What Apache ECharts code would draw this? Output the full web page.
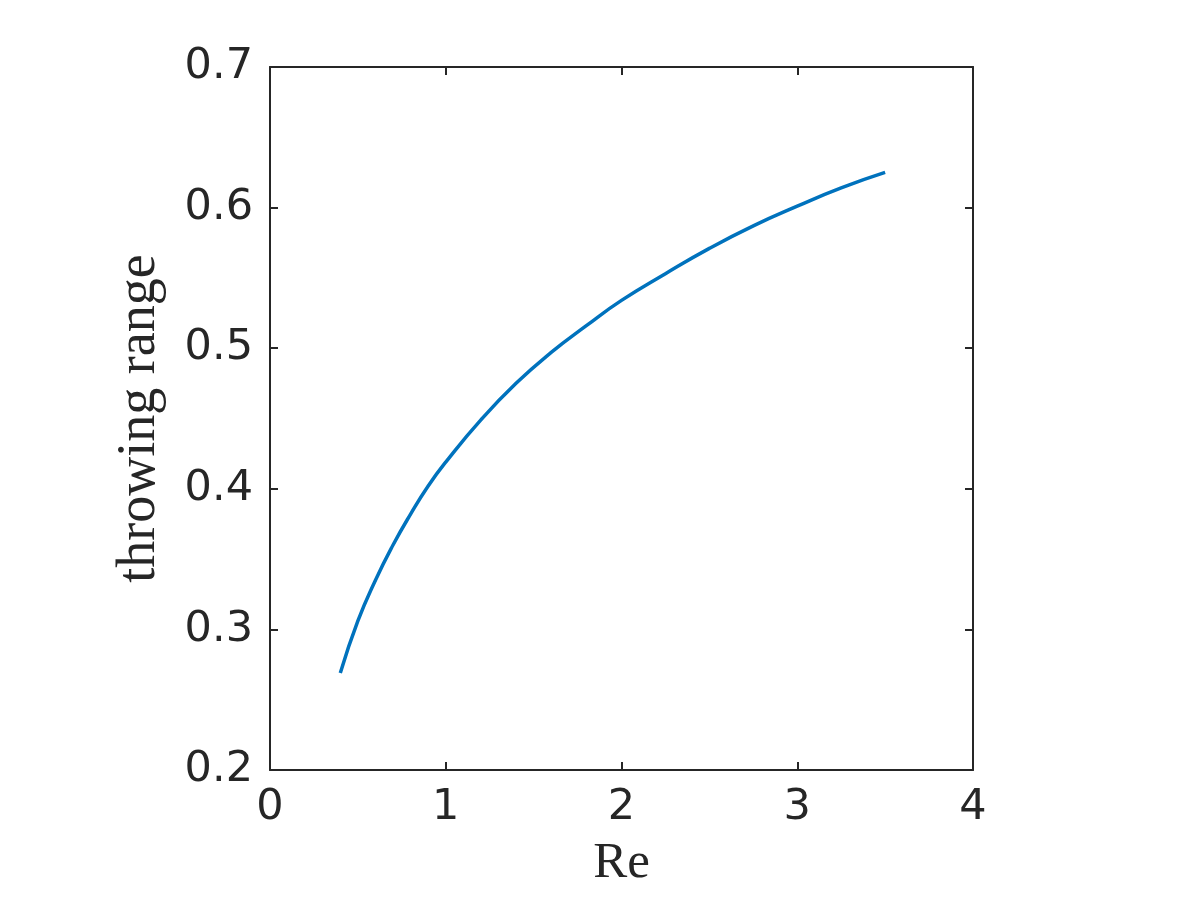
<!DOCTYPE html>
<html>
<head>
<meta charset="utf-8">
<script src="https://cdn.jsdelivr.net/npm/echarts@6/dist/echarts.min.js"></script>
<style>
html,body{margin:0;padding:0;background:#fff;}
#chart{width:1200px;height:900px;}
</style>
</head>
<body>
<div id="chart"></div>
<script>
const reValues = [0.4, 0.5, 0.6, 0.7, 0.8, 0.9, 1.0, 1.2, 1.4, 1.6, 1.8, 2.0, 2.25, 2.5, 2.75, 3.0, 3.25, 3.5];
const rangeValues = [0.269, 0.306, 0.335, 0.360, 0.382, 0.402, 0.419, 0.449, 0.475, 0.497, 0.516, 0.534, 0.553, 0.571, 0.587, 0.601, 0.614, 0.625];
const xTicks = [0, 1, 2, 3, 4];
const yTicks = [0.2, 0.3, 0.4, 0.5, 0.6, 0.7];
const xName = 'Re';
const yName = 'throwing range';

const axisColor = '#262626';
const chart = echarts.init(document.getElementById('chart'));
const lineStyle = {color: axisColor, width: 2};
const tickStyle = {show: true, inside: true, length: 8, lineStyle: {color: axisColor, width: 2}};

chart.setOption({
  animation: false,
  backgroundColor: '#ffffff',
  grid: {left: 270, top: 67, width: 703, height: 703, containLabel: false},
  xAxis: [{
    type: 'value', position: 'bottom',
    min: xTicks[0], max: xTicks[xTicks.length - 1], interval: 1,
    name: xName, nameLocation: 'middle', nameGap: 68,
    nameTextStyle: {fontFamily: 'Liberation Serif', fontSize: 51, color: axisColor},
    axisLine: {show: true, onZero: false, lineStyle: lineStyle},
    axisTick: tickStyle,
    axisLabel: {fontFamily: 'DejaVu Sans', fontSize: 43, color: axisColor, margin: 16},
    splitLine: {show: false}
  }, {
    type: 'value', position: 'top',
    min: xTicks[0], max: xTicks[xTicks.length - 1], interval: 1,
    axisLine: {show: true, onZero: false, lineStyle: lineStyle},
    axisTick: tickStyle,
    axisLabel: {show: false},
    splitLine: {show: false}
  }],
  yAxis: [{
    type: 'value', position: 'left',
    min: yTicks[0], max: yTicks[yTicks.length - 1], interval: 0.1,
    name: yName, nameLocation: 'middle', nameGap: 103, nameRotate: 90,
    nameTextStyle: {fontFamily: 'Liberation Serif', fontSize: 54, color: axisColor},
    axisLine: {show: true, onZero: false, lineStyle: lineStyle},
    axisTick: tickStyle,
    axisLabel: {fontFamily: 'DejaVu Sans', fontSize: 43, color: axisColor, margin: 17,
      formatter: v => v.toFixed(1)},
    splitLine: {show: false}
  }, {
    type: 'value', position: 'right',
    min: yTicks[0], max: yTicks[yTicks.length - 1], interval: 0.1,
    axisLine: {show: true, onZero: false, lineStyle: lineStyle},
    axisTick: tickStyle,
    axisLabel: {show: false},
    splitLine: {show: false}
  }],
  series: [{
    type: 'line',
    xAxisIndex: 0, yAxisIndex: 0,
    data: reValues.map((x, i) => [x, rangeValues[i]]),
    smooth: true,
    showSymbol: false,
    lineStyle: {color: '#0072BD', width: 3.5},
    itemStyle: {color: '#0072BD'}
  }]
});
</script>
</body>
</html>
